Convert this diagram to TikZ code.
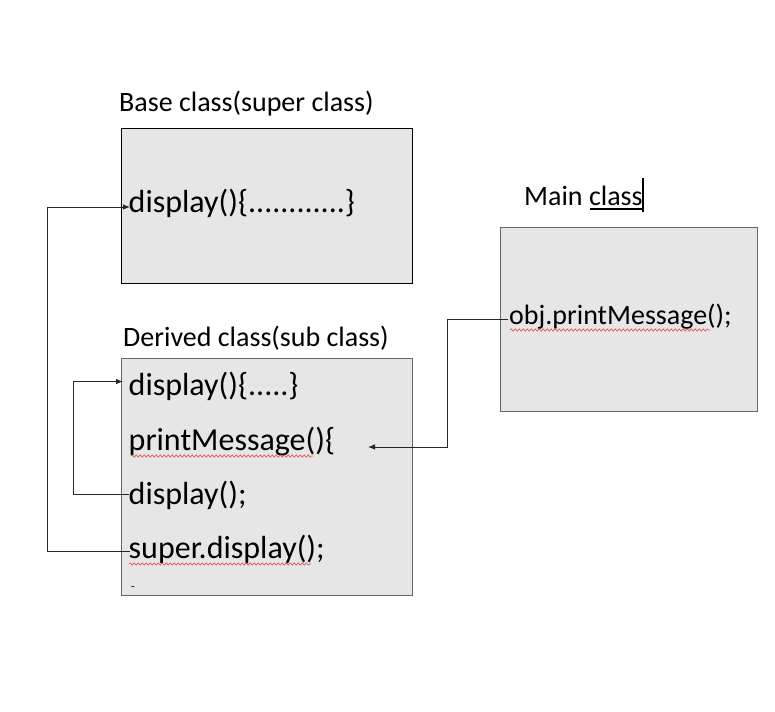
\documentclass[tikz,border=0pt]{standalone}
\usepackage{fontspec}
\setmainfont{Carlito}
\usetikzlibrary{arrows.meta,decorations.pathmorphing}
\definecolor{boxfill}{RGB}{230,230,230}
\definecolor{boxline}{RGB}{90,103,117}
\definecolor{spell}{RGB}{225,80,80}
\begin{document}
\begin{tikzpicture}[x=1pt,y=-1pt,
  box/.style={draw, fill=boxfill, line width=0.9pt, inner sep=0pt, outer sep=0pt, anchor=north west},
  lbl/.style={font=\fontsize{28}{34}\selectfont, inner sep=0pt, anchor=base west},
  code/.style={font=\fontsize{32}{38}\selectfont, inner sep=0pt, anchor=base west},
  conn/.style={line width=0.8pt, draw=black!85, -{Latex[length=7pt,width=5.5pt]}},
  wavy/.style={draw=spell, line width=0.65pt, decorate, decoration={snake, amplitude=1.2pt, segment length=4pt}}]
\useasboundingbox[fill=white] (0,0) rectangle (775,711);

% boxes
\node[box, draw=black, minimum width=291pt, minimum height=155pt] (base) at (121,128) {};
\node[box, draw=boxline, minimum width=291pt, minimum height=237pt] (derived) at (121,358) {};
\node[box, draw=boxline, minimum width=257pt, minimum height=184pt] (main) at (500,227) {};

% labels
\node[lbl] (baselbl) at (119,112) {Base class(super class)};
\node[lbl] (dlbl) at (123,346) {Derived class(sub class)};
\node[lbl] (mainlbl) at (524,206) {Main class};
\draw[line width=1.2pt] (590,209) -- (643,209);
\draw[line width=1.5pt] (643,178) -- (643,212);

% code
\node[code] (bdisp) at (128.5,212) {display()\{............\}};
\node[code] (ddisp) at (128.5,395) {display()\{.....\}};
\node[code] (pm) at (128.5,450) {printMessage()\{};
\node[code] (dcall) at (128.5,504) {display();};
\node[code] (sdisp) at (128.5,558) {super.display();};
\node[font=\fontsize{12}{14}\selectfont, inner sep=0pt, anchor=base west] (dash) at (131,590) {-};
\node[lbl] (obj) at (509,324) {obj.printMessage();};

% spell-check underlines
\draw[wavy] (131,456) -- (313,456);
\draw[wavy] (129,564) -- (311,564);
\draw[wavy] (510,330) -- (710,330);

% connectors
\coordinate (pmin) at (368,447);
\draw[conn] ([xshift=1.5pt,yshift=7pt]sdisp.base west) -- ++(-83,0) |- ([xshift=1.5pt,yshift=5pt]bdisp.base west);
\draw[conn] ([yshift=10pt]dcall.base west) -- ++(-55.5,0) |- ([xshift=-5.5pt,yshift=13.5pt]ddisp.base west);
\draw[conn] ([xshift=-1pt,yshift=5pt]obj.base west) -- ++(-61,0) |- (pmin);
\end{tikzpicture}
\end{document}
